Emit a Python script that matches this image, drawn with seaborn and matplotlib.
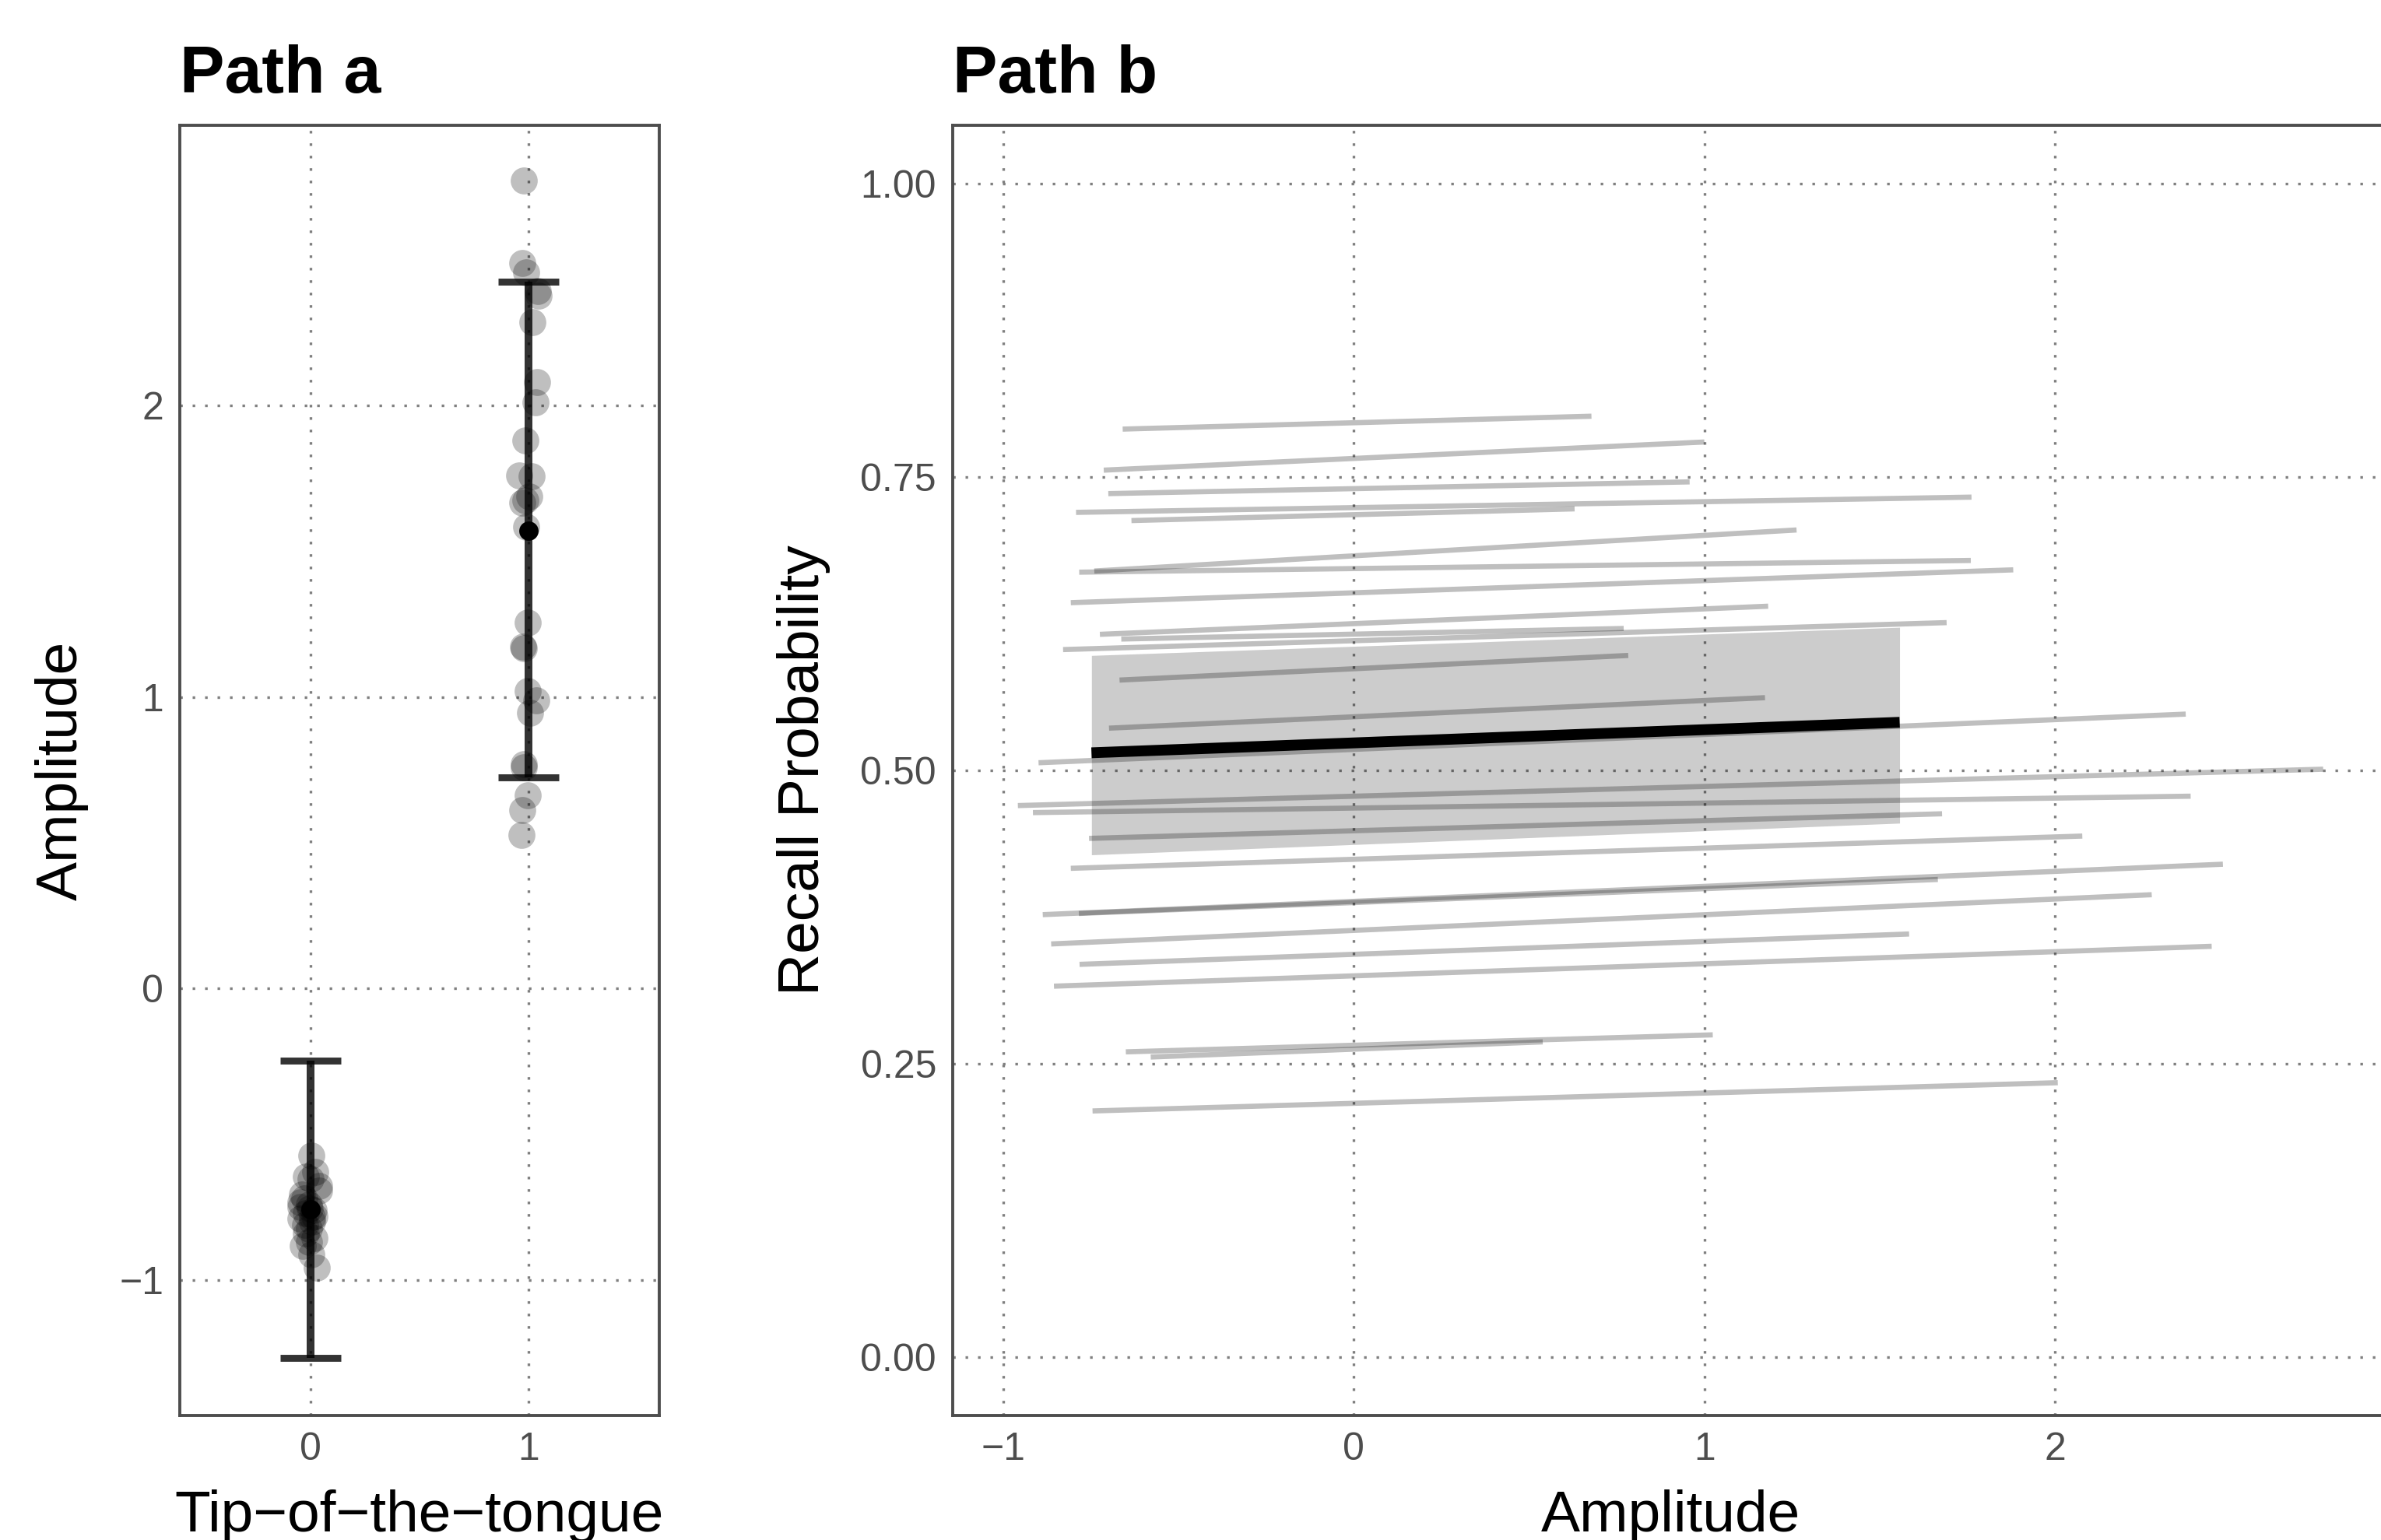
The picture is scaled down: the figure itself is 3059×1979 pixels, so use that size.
import numpy as np
import pandas as pd
import matplotlib
matplotlib.use("Agg")
import matplotlib.pyplot as plt
import seaborn as sns

# Path a: amplitude per subject, split by tip-of-the-tongue state
amp_tot0 = [-0.572, -0.628, -0.645, -0.653, -0.676, -0.694, -0.705, -0.720,
            -0.733, -0.740, -0.748, -0.755, -0.760, -0.770, -0.780, -0.784,
            -0.790, -0.799, -0.810, -0.824, -0.840, -0.855, -0.869, -0.883,
            -0.911, -0.958]
amp_tot1 = [2.772, 2.488, 2.457, 2.392, 2.377, 2.285, 2.081, 2.012, 1.881,
            1.761, 1.757, 1.687, 1.674, 1.667, 1.583, 1.256, 1.172, 1.167,
            1.020, 0.989, 0.946, 0.771, 0.760, 0.664, 0.612, 0.527]
tot_levels = [0, 1]
tot_mean = [-0.757, 1.571]
tot_lower = [-1.268, 0.724]
tot_upper = [-0.246, 2.425]

# Path b: per-subject fitted lines (amplitude range -> recall probability)
subj_amp_start = [-0.659, -0.713, -0.700, -0.792, -0.634, -0.740, -0.783, -0.807,
                  -0.724, -0.663, -0.829, -0.668, -0.698, -0.899, -0.958, -0.915,
                  -0.755, -0.807, -0.887, -0.784, -0.863, -0.782, -0.855, -0.650,
                  -0.579, -0.745]
subj_amp_end = [0.678, 1.000, 0.958, 1.762, 0.630, 1.263, 1.760, 1.881,
                1.182, 0.770, 1.691, 0.783, 1.173, 2.373, 2.765, 2.387,
                1.678, 2.078, 2.479, 1.666, 2.276, 1.584, 2.447, 1.024,
                0.539, 2.008]
subj_p_start = [0.791, 0.756, 0.736, 0.720, 0.713, 0.670, 0.669, 0.643,
                0.616, 0.612, 0.603, 0.577, 0.536, 0.5065, 0.470, 0.464,
                0.442, 0.4165, 0.377, 0.378, 0.352, 0.3346, 0.316, 0.260,
                0.2556, 0.2096]
subj_p_end = [0.802, 0.780, 0.746, 0.733, 0.723, 0.705, 0.679, 0.671,
              0.640, 0.621, 0.626, 0.598, 0.562, 0.548, 0.501, 0.478,
              0.463, 0.444, 0.420, 0.407, 0.394, 0.3605, 0.350, 0.2745,
              0.2685, 0.2337]

# population-level fit with confidence band
fit_amp = [-0.748, 1.557]
fit_p = [0.515, 0.541]
fit_lo = [0.428, 0.455]
fit_hi = [0.598, 0.622]

df_a = pd.DataFrame({
    "tot": [0] * len(amp_tot0) + [1] * len(amp_tot1),
    "amp": amp_tot0 + amp_tot1,
})

n = len(subj_amp_start)
df_b = pd.DataFrame({
    "subject": list(range(n)) * 2,
    "amp": subj_amp_start + subj_amp_end,
    "p": subj_p_start + subj_p_end,
})

sns.set_theme(style="white")
plt.rcParams["font.family"] = ["Liberation Sans", "DejaVu Sans"]
plt.rcParams["axes.unicode_minus"] = True
plt.rcParams["text.color"] = "black"
plt.rcParams["axes.labelcolor"] = "black"

tick_col = "#4d4d4d"
grid_kw = dict(color="#7f7f7f", linestyle=(0, (1, 3.8)), linewidth=1.2)

fig = plt.figure(figsize=(15.295, 9.895), dpi=200)
ax1 = fig.add_axes([0.0755, 0.0809, 0.2013, 0.8377])
ax2 = fig.add_axes([0.4001, 0.0809, 0.603, 0.8377])

# ---- Path a ----
np.random.seed(3)
sns.stripplot(data=df_a, x="tot", y="amp", native_scale=True, jitter=0.05,
              color="black", alpha=0.25, size=12.5, linewidth=0, ax=ax1, zorder=2)
yerr = [np.array(tot_mean) - np.array(tot_lower),
        np.array(tot_upper) - np.array(tot_mean)]
ax1.errorbar(tot_levels, tot_mean, yerr=yerr, fmt="none", ecolor="black",
             alpha=0.8, elinewidth=3.6, capsize=14, capthick=3.2, zorder=3)
sns.scatterplot(x=tot_levels, y=tot_mean, color="black", s=80, linewidth=0,
                ax=ax1, zorder=4)
ax1.set_xlim(-0.6, 1.6)
ax1.set_ylim(-1.464, 2.961)
ax1.set_xticks([0, 1])
ax1.set_yticks([-1, 0, 1, 2])
ax1.set_xlabel("Tip\u2212of\u2212the\u2212tongue", fontsize=27, labelpad=10)
ax1.set_ylabel("Amplitude", fontsize=27, labelpad=14)
ax1.set_title("Path a", loc="left", fontsize=31, fontweight="bold", pad=15)

# ---- Path b ----
sns.lineplot(data=df_b, x="amp", y="p", units="subject", estimator=None,
             sort=False, color="black", alpha=0.25, linewidth=2.4, ax=ax2,
             zorder=2, solid_capstyle="butt")
ax2.fill_between(fit_amp, fit_lo, fit_hi, color="black", alpha=0.2,
                 linewidth=0, zorder=2)
sns.lineplot(x=fit_amp, y=fit_p, color="black", linewidth=5, ax=ax2, zorder=3,
             solid_capstyle="butt")
ax2.set_xlim(-1.144, 2.951)
ax2.set_ylim(-0.05, 1.05)
ax2.set_xticks([-1, 0, 1, 2])
ax2.set_yticks([0, 0.25, 0.5, 0.75, 1.0])
ax2.set_yticklabels(["0.00", "0.25", "0.50", "0.75", "1.00"])
ax2.set_xlabel("Amplitude", fontsize=27, labelpad=10)
ax2.set_ylabel("Recall Probability", fontsize=27, labelpad=14)
ax2.set_title("Path b", loc="left", fontsize=31, fontweight="bold", pad=15)

for ax in (ax1, ax2):
    ax.set_axisbelow(True)
    ax.grid(True, **grid_kw)
    ax.tick_params(direction="in", length=6, width=1.3, color=tick_col,
                   labelcolor=tick_col, labelsize=18, pad=7.5)
    for sp in ax.spines.values():
        sp.set_visible(True)
        sp.set_color(tick_col)
        sp.set_linewidth(1.4)
    if ax.get_legend() is not None:
        ax.get_legend().remove()

fig.savefig("out.png", dpi=200)
